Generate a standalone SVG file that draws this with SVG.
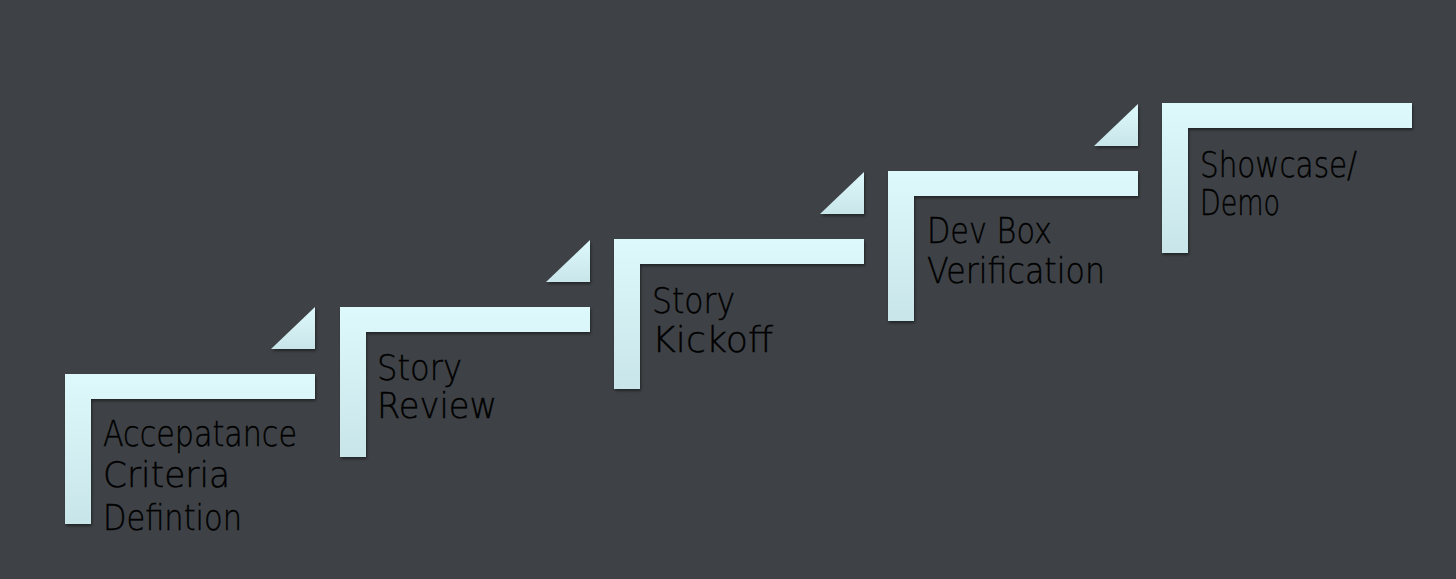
<svg xmlns="http://www.w3.org/2000/svg" xmlns:xlink="http://www.w3.org/1999/xlink" width="1456" height="579" viewBox="0 0 1456 579">
  <defs>
    <linearGradient id="g" x1="0" y1="0" x2="0" y2="1">
      <stop offset="0" stop-color="#def9fc"/>
      <stop offset="1" stop-color="#c8e5e9"/>
    </linearGradient>
    <filter id="sh" x="-10%" y="-10%" width="120%" height="130%">
      <feDropShadow dx="1" dy="2" stdDeviation="1.5" flood-color="#000" flood-opacity="0.45"/>
    </filter>
    <path id="stair" d="M0,0 H250 V25 H26 V150 H0 Z"/>
    <path id="tri" d="M250,-67 V-25 H206 Z"/>
  </defs>
  <style>
    .s { fill: url(#g); filter: url(#sh); }
    .t { font-family: "DejaVu Sans", "Liberation Sans", sans-serif; font-weight: 200; font-size: 36px; fill: #000; stroke: #000; stroke-width: 0.4; }
  </style>
  <rect width="1456" height="579" fill="#3e4246"/>
  <g id="step1" transform="translate(65,374)">
    <use xlink:href="#tri" class="s"/>
    <use xlink:href="#stair" class="s"/>
    <text class="t" x="38" y="72" textLength="194" lengthAdjust="spacingAndGlyphs">Accepatance</text>
    <text class="t" x="38" y="113" textLength="127" lengthAdjust="spacingAndGlyphs">Criteria</text>
    <text class="t" x="38" y="156" textLength="139" lengthAdjust="spacingAndGlyphs">Defintion</text>
  </g>
  <g id="step2" transform="translate(340,307)">
    <use xlink:href="#tri" class="s"/>
    <use xlink:href="#stair" class="s"/>
    <text class="t" x="37" y="73" textLength="85" lengthAdjust="spacingAndGlyphs">Story</text>
    <text class="t" x="37" y="111" textLength="120" lengthAdjust="spacingAndGlyphs">Review</text>
  </g>
  <g id="step3" transform="translate(614,239)">
    <use xlink:href="#tri" class="s"/>
    <use xlink:href="#stair" class="s"/>
    <text class="t" x="38" y="74" textLength="83" lengthAdjust="spacingAndGlyphs">Story</text>
    <text class="t" x="38" y="113" textLength="121" lengthAdjust="spacingAndGlyphs">Kickoff</text>
  </g>
  <g id="step4" transform="translate(888,171)">
    <use xlink:href="#tri" class="s"/>
    <use xlink:href="#stair" class="s"/>
    <text class="t" x="39" y="72" textLength="125" lengthAdjust="spacingAndGlyphs">Dev Box</text>
    <text class="t" x="39" y="112" textLength="178" lengthAdjust="spacingAndGlyphs">Verification</text>
  </g>
  <g id="step5" transform="translate(1162,103)">
    <use xlink:href="#stair" class="s"/>
    <text class="t" x="38" y="74" textLength="157" lengthAdjust="spacingAndGlyphs">Showcase/</text>
    <text class="t" x="38" y="112" textLength="80" lengthAdjust="spacingAndGlyphs">Demo</text>
  </g>
  <g id="connectors"/>
</svg>
